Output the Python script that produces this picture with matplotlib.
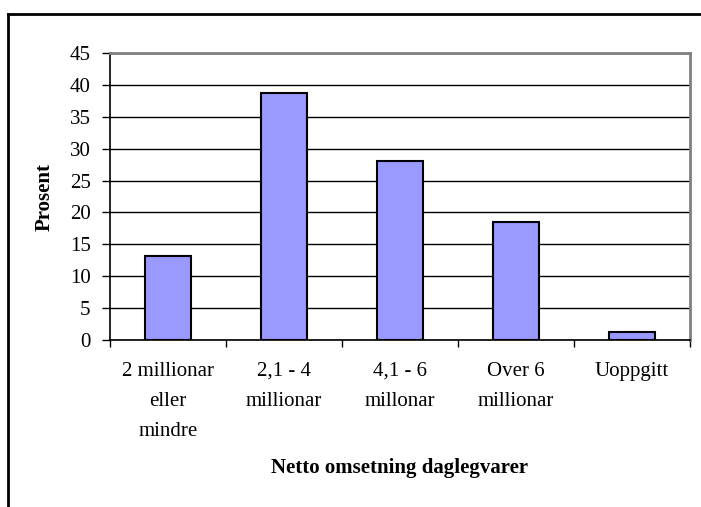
import matplotlib
matplotlib.use("Agg")
import matplotlib.pyplot as plt
from matplotlib.lines import Line2D

categories = ["2 millionar\neller\nmindre", "2,1 - 4\nmillionar", "4,1 - 6\nmillonar",
              "Over 6\nmillionar", "Uoppgitt"]
values = [13.2, 38.7, 28.0, 18.5, 1.3]
yticks = [0, 5, 10, 15, 20, 25, 30, 35, 40, 45]

plt.rcParams["font.family"] = ["Liberation Serif", "DejaVu Serif"]

W, H = 701, 507
fs = 15
fig = plt.figure(figsize=(W / 100, H / 100), dpi=100)
fig.patch.set_facecolor("white")

# outer chart frame (top and left edges)
fig.add_artist(Line2D([8 / W, 8 / W], [0, 1 - 14 / H], transform=fig.transFigure,
                      color="black", lw=2.0))
fig.add_artist(Line2D([8 / W, 1], [1 - 14 / H, 1 - 14 / H], transform=fig.transFigure,
                      color="black", lw=2.0))

ax = fig.add_axes([110 / W, 1 - 340 / H, 580 / W, 287 / H])
x = list(range(len(categories)))
ax.bar(x, values, width=0.4, color="#9999FF", edgecolor="black", linewidth=1.5, zorder=3)

ax.set_xlim(-0.5, len(categories) - 0.5)
ax.set_ylim(0, 45)
ax.set_yticks(yticks)
ax.set_yticklabels([str(t) for t in yticks], fontsize=fs)
ax.yaxis.grid(True, color="black", linewidth=1.0, zorder=0)
ax.set_axisbelow(True)

# category labels between boundary ticks
ax.set_xticks([i + 0.5 for i in range(-1, len(categories))])
ax.set_xticklabels([])
ax.tick_params(axis="x", direction="out", length=5, width=1, color="black")
ax.tick_params(axis="y", direction="out", length=6, width=1, color="black", pad=8)
for i, lab in enumerate(categories):
    ax.text(i, -0.075, lab, transform=ax.get_xaxis_transform(), ha="center", va="top",
            fontsize=fs, linespacing=1.8)

for s in ["left", "bottom"]:
    ax.spines[s].set_color("black")
    ax.spines[s].set_linewidth(1.2)
for s in ["top", "right"]:
    ax.spines[s].set_color("#808080")
    ax.spines[s].set_linewidth(2.0)

fig.text(400 / W, 1 - 468 / H, "Netto omsetning daglegvarer", ha="center", va="center",
         fontsize=fs, fontweight="bold")
fig.text(45 / W, 1 - 197 / H, "Prosent", ha="center", va="center", rotation=90,
         fontsize=fs, fontweight="bold")

fig.savefig("out.png", dpi=100)
